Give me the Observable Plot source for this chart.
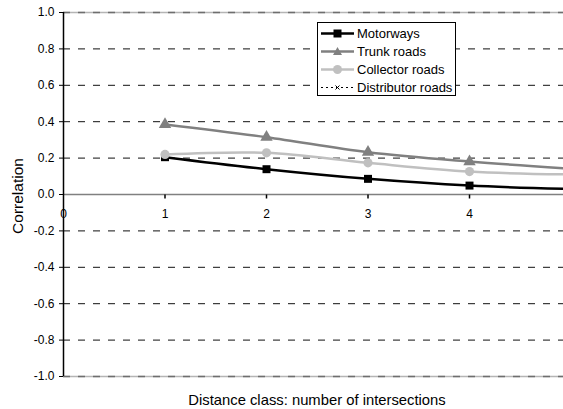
<!DOCTYPE html>
<html><head><meta charset="utf-8">
<script src="https://cdn.jsdelivr.net/npm/d3@7"></script>
<script src="https://cdn.jsdelivr.net/npm/@observablehq/plot@0.6"></script>
<style>
body{margin:0;background:#fff;font-family:"Liberation Sans",Arial,sans-serif;}
#wrap{position:relative;width:563px;height:409px;overflow:hidden;}
#legend{position:absolute;left:317px;top:22px;width:139px;height:74px;border:1px solid #000;background:#fff;box-sizing:border-box;font-size:13px;color:#000;}
.item{position:absolute;left:3px;height:18px;display:flex;align-items:center;white-space:nowrap;}
.item svg{margin-right:3px;}
.ylab{position:absolute;left:18px;top:196px;transform:translate(-50%,-50%) rotate(-90deg);font-size:15.5px;white-space:nowrap;}
.xlab{position:absolute;left:317px;top:400px;transform:translate(-50%,-50%);font-size:14.8px;white-space:nowrap;}
</style></head><body>
<div id="wrap"><div id="chart"></div><div id="legend"></div>
<div class="ylab">Correlation</div>
<div class="xlab">Distance class: number of intersections</div></div>
<script>
const distanceClasses = [1, 2, 3, 4, 5];
const motorways = [0.205, 0.139, 0.086, 0.049, 0.03];
const trunkRoads = [0.385, 0.315, 0.232, 0.181, 0.142];
const collectorRoads = [0.22, 0.229, 0.174, 0.126, 0.11];
const distributorRoads = [];
const seriesNames = ["Motorways", "Trunk roads", "Collector roads", "Distributor roads"];
const xTicks = [0, 1, 2, 3, 4];
const yTicks = [-1, -0.8, -0.6, -0.4, -0.2, 0, 0.2, 0.4, 0.6, 0.8, 1];

const styles = {
  "Motorways": {stroke: "#000", symbol: "square", r: 4.5, dash: null},
  "Trunk roads": {stroke: "#808080", symbol: "triangle", r: 4.6, dash: null},
  "Collector roads": {stroke: "#c0c0c0", symbol: "circle", r: 4.6, dash: null},
  "Distributor roads": {stroke: "#000", symbol: "times", r: 3, dash: "2,3"}
};
const seriesValues = [motorways, trunkRoads, collectorRoads, distributorRoads];
const rows = [];
seriesNames.forEach((name, k) => {
  seriesValues[k].forEach((v, i) => rows.push({x: distanceClasses[i], y: v, series: name}));
});

const tickSymbol = {draw(ctx) { ctx.moveTo(0, 0); ctx.lineTo(0, 4); }};
const grid = yTicks.filter(v => v !== 0 && Math.abs(v) !== 1);
const border = yTicks.filter(v => Math.abs(v) === 1);

const marks = [
  Plot.ruleY(grid, {stroke: "#111", strokeDasharray: "7,8"}),
  Plot.ruleY(border, {stroke: "#b5b5b5", strokeWidth: 1.3}),
  Plot.ruleY(border, {stroke: "#6e6e6e", strokeWidth: 1.3, strokeDasharray: "7,8"}),
  Plot.ruleY([0], {stroke: "#808080", strokeWidth: 1.5}),
  Plot.ruleX([0], {stroke: "#000", strokeWidth: 1.5}),
  Plot.dot(xTicks.slice(1), {x: d => d, y: () => 0, symbol: tickSymbol, stroke: "#000", fill: "none"}),
  Plot.text(xTicks, {x: d => d, y: () => 0, text: d => String(d), dy: 20, fontSize: 12, fill: "#000"})
];
seriesNames.forEach(name => {
  const s = styles[name];
  const data = rows.filter(r => r.series === name);
  marks.push(Plot.line(data, {x: "x", y: "y", stroke: s.stroke, strokeWidth: 2.5, curve: "catmull-rom", strokeDasharray: s.dash, clip: true}));
  marks.push(Plot.dot(data, {x: "x", y: "y", symbol: s.symbol, r: s.r, fill: s.symbol === "times" ? "none" : s.stroke, stroke: s.symbol === "times" ? s.stroke : "none", clip: true}));
});

const chart = Plot.plot({
  width: 563, height: 409,
  marginLeft: 63, marginRight: 0, marginTop: 12, marginBottom: 33,
  style: {fontFamily: "'Liberation Sans', Arial, sans-serif", fontSize: "12px", background: "#fff", color: "#000"},
  x: {domain: [0, 4.926], axis: null},
  y: {domain: [-1, 1], ticks: 10, tickSize: 4, tickPadding: 5, tickFormat: d => d.toFixed(1), label: null},
  marks
});
chart.querySelectorAll("g[font-size]").forEach(g => g.setAttribute("font-size", "12"));
chart.querySelectorAll("text").forEach(t => { t.style.fontSize = "12px"; t.style.fill = "#000"; });
document.getElementById("chart").appendChild(chart);

// legend
const legend = document.getElementById("legend");
const symPath = {
  square: "M12.5,2.5h8v8h-8z",
  triangle: "M16.5,2 L21,10 L12,10 Z",
  times: "M14.5,4.5 L18.5,8.5 M18.5,4.5 L14.5,8.5"
};
seriesNames.forEach((name, k) => {
  const s = styles[name];
  const item = document.createElement("div");
  item.className = "item";
  item.style.top = (1.7 + k * 18) + "px";
  let marker;
  if (s.symbol === "circle") marker = `<circle cx="16.5" cy="6.5" r="4.5" fill="${s.stroke}"/>`;
  else if (s.symbol === "times") marker = `<path d="${symPath.times}" stroke="#000" stroke-width="1" fill="none"/>`;
  else marker = `<path d="${symPath[s.symbol]}" fill="${s.stroke}"/>`;
  const lw = s.dash ? 1 : 2.5;
  item.innerHTML = `<svg width="33" height="13"><line x1="0" x2="33" y1="6.5" y2="6.5" stroke="${s.stroke}" stroke-width="${lw}" ${s.dash ? `stroke-dasharray="${s.dash}"` : ""}/>${marker}</svg><span>${name}</span>`;
  legend.appendChild(item);
});
</script></body></html>
